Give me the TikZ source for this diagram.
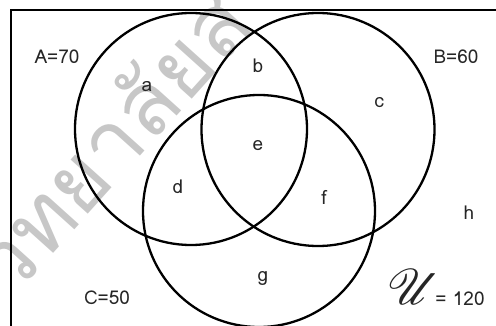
\documentclass[tikz,border=0pt]{standalone}
\usepackage{fontspec}
\usepackage{mathrsfs}
\setmainfont{Loma}
\newfontfamily\thaifont[Script=Thai]{Loma}
\begin{document}
\begin{tikzpicture}[x=1pt,y=-1pt,
  venn/.style={draw=black,line width=2.3pt},
  lbl/.style={font=\fontsize{19}{22}\selectfont,text=black!85,inner sep=0pt}]
\useasboundingbox (0,0) rectangle (496,326);
\begin{scope}
\clip (0,0) rectangle (496,326);
\node[rotate=48,text=black!22,font=\thaifont\fontsize{88}{94}\selectfont,inner sep=0pt] (wm) at (108,140) {วิทยาลัยส};
\draw[line width=2pt] (11,10) rectangle (510,340);
\draw[venn] (191,129) circle (116);
\draw[venn] (318,129.5) circle (116.5);
\draw[venn] (259,211) circle (116);
\end{scope}
\node[lbl] (A) at (57,57) {A=70};
\node[lbl] (B) at (456,57) {B=60};
\node[lbl] (C) at (107,298) {C=50};
\node[lbl] (a) at (147,87) {a};
\node[lbl] (b) at (258,66) {b};
\node[lbl] (c) at (379,103) {c};
\node[lbl] (d) at (178,187) {d};
\node[lbl] (e) at (258,146) {e};
\node[lbl] (f) at (324,197) {f};
\node[lbl] (g) at (263,278) {g};
\node[lbl] (h) at (469,213) {h};
\node[inner sep=0pt,text=black!85] (U) at (414,287) {\scalebox{5}{$\mathscr{U}$}};
\node[lbl] (n) at (460,299) {= 120};
\end{tikzpicture}
\end{document}
